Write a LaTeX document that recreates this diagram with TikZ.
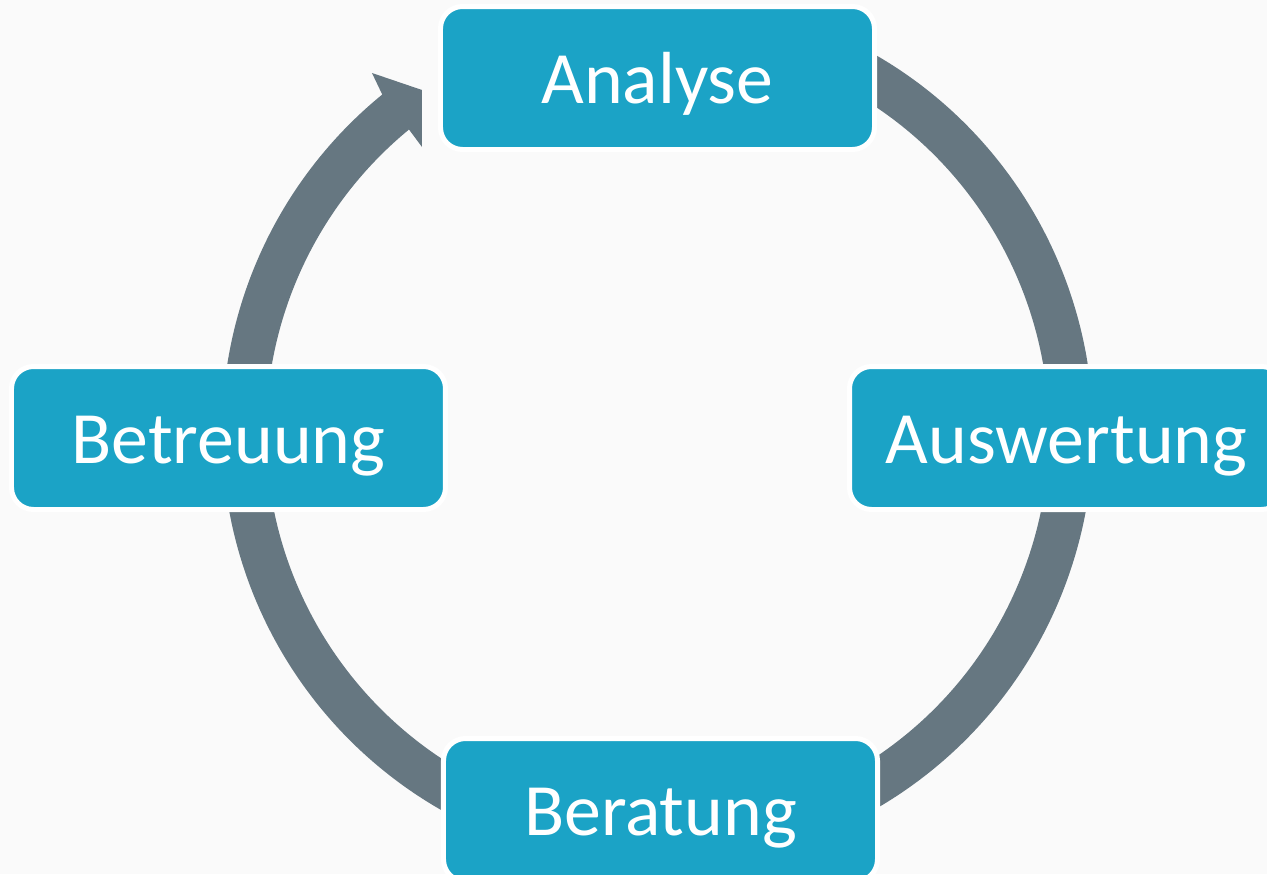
\documentclass[tikz,border=0pt]{standalone}
\usepackage{fontspec}
\setmainfont{Carlito}
\usetikzlibrary{calc}
\definecolor{boxblue}{RGB}{27,163,198}
\definecolor{ringgrey}{RGB}{102,119,129}
\definecolor{paper}{RGB}{250,250,250}

\begin{document}
\begin{tikzpicture}[
		ring/.style={ringgrey},
		stage/.style={draw=white, line width=0.1cm, fill=boxblue, rounded corners=0.44cm,
			minimum width=8.68cm, minimum height=2.86cm, inner sep=0pt,
			text=white, font=\fontsize{42}{50}\selectfont, text height=1.0cm, text depth=0cm},
	]
	\fill[paper] (-13.15,-8.84) rectangle (12.19,8.64);
	\useasboundingbox (-13.15,-8.84) rectangle (12.19,8.64);
	\clip (-13.15,-8.84) rectangle (12.19,8.64);
	\coordinate (center) at (0,0);
	\draw[ring, line width=0.88cm] ($(center)+(70:8.27)$) arc[start angle=70, end angle=-180, radius=8.27];
	\fill[ring] ($(center)+(180:8.71)$) arc[start angle=180, end angle=129.2, radius=8.71]
		-- ($(center)+(-5.71,7.18)$) -- ($(center)+(-4.71,6.84)$) -- ($(center)+(-4.71,5.70)$)
		-- ($(center)+(129.4:7.83)$) arc[start angle=129.4, end angle=180, radius=7.83] -- cycle;
	\node[stage] (analyse) at ($(center)+(0,7.08)$) {Analyse};
	\node[stage] (auswertung) at ($(center)+(8.18,-0.12)$) {Auswertung};
	\node[stage] (beratung) at ($(center)+(0.06,-7.56)$) {Beratung};
	\node[stage] (betreuung) at ($(center)+(-8.58,-0.12)$) {Betreuung};
\end{tikzpicture}
\end{document}
